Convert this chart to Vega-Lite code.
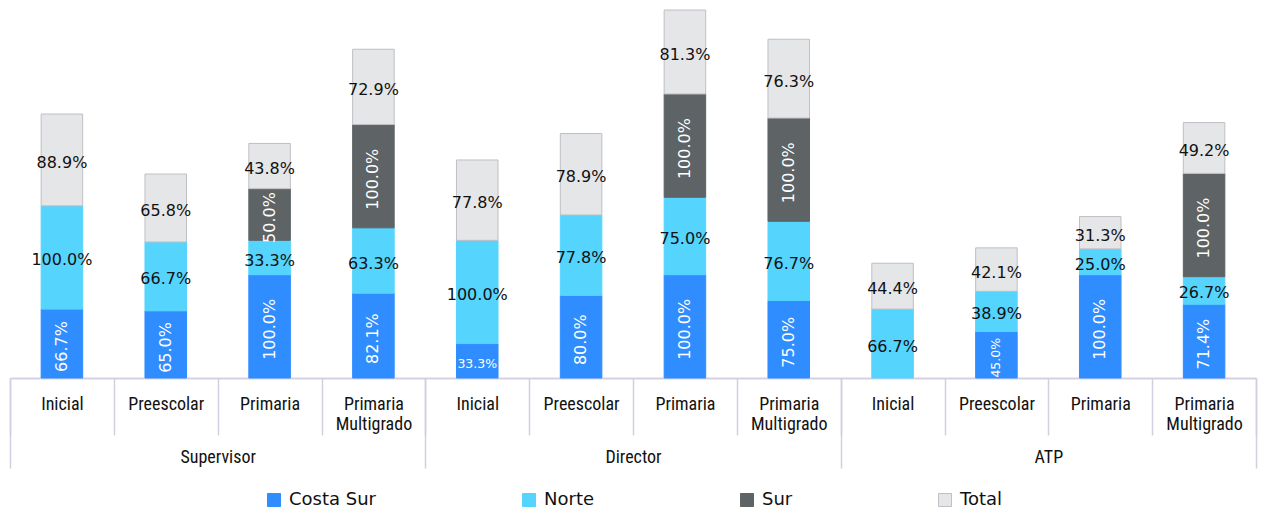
{
  "$schema": "https://vega.github.io/schema/vega-lite/v6.json",
  "width": 1246,
  "height": 378,
  "autosize": {"type": "none"},
  "padding": {"left": 10, "top": 0, "right": 7, "bottom": 131},
  "background": "white",
  "config": {
    "view": {"stroke": null},
    "legend": {
      "orient": "none",
      "legendX": 255,
      "legendY": 491,
      "direction": "horizontal",
      "symbolType": "square",
      "symbolSize": 169,
      "labelFont": "DejaVu Sans",
      "labelFontSize": 18,
      "labelColor": "#111111",
      "labelOffset": 6,
      "columnPadding": 143,
      "symbolStrokeWidth": 1
    }
  },
  "data": {
    "values": [
      {"role": "Supervisor", "level": "Inicial", "k": "Supervisor|Inicial", "series": "Costa Sur", "value": 0.667},
      {"role": "Supervisor", "level": "Inicial", "k": "Supervisor|Inicial", "series": "Norte", "value": 1.0},
      {"role": "Supervisor", "level": "Inicial", "k": "Supervisor|Inicial", "series": "Total", "value": 0.889},
      {"role": "Supervisor", "level": "Preescolar", "k": "Supervisor|Preescolar", "series": "Costa Sur", "value": 0.65},
      {"role": "Supervisor", "level": "Preescolar", "k": "Supervisor|Preescolar", "series": "Norte", "value": 0.667},
      {"role": "Supervisor", "level": "Preescolar", "k": "Supervisor|Preescolar", "series": "Total", "value": 0.658},
      {"role": "Supervisor", "level": "Primaria", "k": "Supervisor|Primaria", "series": "Costa Sur", "value": 1.0},
      {"role": "Supervisor", "level": "Primaria", "k": "Supervisor|Primaria", "series": "Norte", "value": 0.333},
      {"role": "Supervisor", "level": "Primaria", "k": "Supervisor|Primaria", "series": "Sur", "value": 0.5},
      {"role": "Supervisor", "level": "Primaria", "k": "Supervisor|Primaria", "series": "Total", "value": 0.438},
      {"role": "Supervisor", "level": "Primaria Multigrado", "k": "Supervisor|Primaria Multigrado", "series": "Costa Sur", "value": 0.821},
      {"role": "Supervisor", "level": "Primaria Multigrado", "k": "Supervisor|Primaria Multigrado", "series": "Norte", "value": 0.633},
      {"role": "Supervisor", "level": "Primaria Multigrado", "k": "Supervisor|Primaria Multigrado", "series": "Sur", "value": 1.0},
      {"role": "Supervisor", "level": "Primaria Multigrado", "k": "Supervisor|Primaria Multigrado", "series": "Total", "value": 0.729},
      {"role": "Director", "level": "Inicial", "k": "Director|Inicial", "series": "Costa Sur", "value": 0.333},
      {"role": "Director", "level": "Inicial", "k": "Director|Inicial", "series": "Norte", "value": 1.0},
      {"role": "Director", "level": "Inicial", "k": "Director|Inicial", "series": "Total", "value": 0.778},
      {"role": "Director", "level": "Preescolar", "k": "Director|Preescolar", "series": "Costa Sur", "value": 0.8},
      {"role": "Director", "level": "Preescolar", "k": "Director|Preescolar", "series": "Norte", "value": 0.778},
      {"role": "Director", "level": "Preescolar", "k": "Director|Preescolar", "series": "Total", "value": 0.789},
      {"role": "Director", "level": "Primaria", "k": "Director|Primaria", "series": "Costa Sur", "value": 1.0},
      {"role": "Director", "level": "Primaria", "k": "Director|Primaria", "series": "Norte", "value": 0.75},
      {"role": "Director", "level": "Primaria", "k": "Director|Primaria", "series": "Sur", "value": 1.0},
      {"role": "Director", "level": "Primaria", "k": "Director|Primaria", "series": "Total", "value": 0.813},
      {"role": "Director", "level": "Primaria Multigrado", "k": "Director|Primaria Multigrado", "series": "Costa Sur", "value": 0.75},
      {"role": "Director", "level": "Primaria Multigrado", "k": "Director|Primaria Multigrado", "series": "Norte", "value": 0.767},
      {"role": "Director", "level": "Primaria Multigrado", "k": "Director|Primaria Multigrado", "series": "Sur", "value": 1.0},
      {"role": "Director", "level": "Primaria Multigrado", "k": "Director|Primaria Multigrado", "series": "Total", "value": 0.763},
      {"role": "ATP", "level": "Inicial", "k": "ATP|Inicial", "series": "Norte", "value": 0.667},
      {"role": "ATP", "level": "Inicial", "k": "ATP|Inicial", "series": "Total", "value": 0.444},
      {"role": "ATP", "level": "Preescolar", "k": "ATP|Preescolar", "series": "Costa Sur", "value": 0.45},
      {"role": "ATP", "level": "Preescolar", "k": "ATP|Preescolar", "series": "Norte", "value": 0.389},
      {"role": "ATP", "level": "Preescolar", "k": "ATP|Preescolar", "series": "Total", "value": 0.421},
      {"role": "ATP", "level": "Primaria", "k": "ATP|Primaria", "series": "Costa Sur", "value": 1.0},
      {"role": "ATP", "level": "Primaria", "k": "ATP|Primaria", "series": "Norte", "value": 0.25},
      {"role": "ATP", "level": "Primaria", "k": "ATP|Primaria", "series": "Total", "value": 0.313},
      {"role": "ATP", "level": "Primaria Multigrado", "k": "ATP|Primaria Multigrado", "series": "Costa Sur", "value": 0.714},
      {"role": "ATP", "level": "Primaria Multigrado", "k": "ATP|Primaria Multigrado", "series": "Norte", "value": 0.267},
      {"role": "ATP", "level": "Primaria Multigrado", "k": "ATP|Primaria Multigrado", "series": "Sur", "value": 1.0},
      {"role": "ATP", "level": "Primaria Multigrado", "k": "ATP|Primaria Multigrado", "series": "Total", "value": 0.492}
    ]
  },
  "transform": [
    {"stack": "value", "groupby": ["k"], "sort": [{"field": "series", "order": "ascending"}], "as": ["v0", "v1"]}
  ],
  "layer": [
    {
      "layer": [
        {
          "mark": {"type": "bar", "width": {"band": 0.4}, "strokeWidth": 1},
          "encoding": {
            "x": {
              "field": "k", "type": "nominal",
              "sort": ["Supervisor|Inicial", "Supervisor|Preescolar", "Supervisor|Primaria", "Supervisor|Primaria Multigrado", "Director|Inicial", "Director|Preescolar", "Director|Primaria", "Director|Primaria Multigrado", "ATP|Inicial", "ATP|Preescolar", "ATP|Primaria", "ATP|Primaria Multigrado"],
              "scale": {"paddingInner": 0, "paddingOuter": 0},
              "axis": {
                "title": null,
                "orient": "bottom",
                "labelExpr": "indexof(datum.label, '|') >= 0 ? split(split(datum.label, '|')[1], ' ') : ''",
                "tickBand": "extent",
                "tickSize": 57,
                "tickColor": "#d3cfe0",
                "tickWidth": 1.5,
                "domainColor": "#d3cfe0",
                "domainWidth": 1.5,
                "labelPadding": -40,
                "labelFont": "Liberation Sans Narrow, Roboto Condensed, DejaVu Sans Condensed, sans-serif",
                "labelFontSize": 18,
                "labelColor": "#111111",
                "labelLineHeight": 20,
                "labelAngle": 0,
                "labelBaseline": "top",
                "labelOverlap": false,
                "labelBound": false
              }
            },
            "y": {"field": "v0", "type": "quantitative", "scale": {"domain": [0, 3.66], "nice": false}, "axis": null},
            "y2": {"field": "v1"},
            "fill": {
              "field": "series", "type": "nominal",
              "scale": {"domain": ["Costa Sur", "Norte", "Sur", "Total"], "range": ["#2f8dff", "#55d4fe", "#5e6366", "#e5e6e8"]},
              "legend": {"title": null}
            },
            "stroke": {
              "field": "series", "type": "nominal",
              "scale": {"domain": ["Costa Sur", "Norte", "Sur", "Total"], "range": ["#2f8dff", "#55d4fe", "#5e6366", "#bfbfc4"]},
              "legend": {"title": null}
            }
          }
        },
        {
          "transform": [
            {"fold": ["v0", "v1"], "as": ["edge", "pos"]}
          ],
          "mark": {"type": "text", "font": "DejaVu Sans", "baseline": "middle", "align": "center"},
          "encoding": {
            "x": {
              "field": "k", "type": "nominal",
              "sort": ["Supervisor|Inicial", "Supervisor|Preescolar", "Supervisor|Primaria", "Supervisor|Primaria Multigrado", "Director|Inicial", "Director|Preescolar", "Director|Primaria", "Director|Primaria Multigrado", "ATP|Inicial", "ATP|Preescolar", "ATP|Primaria", "ATP|Primaria Multigrado"]
            },
            "y": {"aggregate": "mean", "field": "pos", "type": "quantitative", "scale": {"domain": [0, 3.66], "nice": false}},
            "yOffset": {"condition": {"test": "(datum.series == 'Costa Sur' && datum.value >= 0.4) || datum.series == 'Sur'", "value": 0}, "value": 3},
            "detail": {"field": "series", "type": "nominal"},
            "text": {"field": "value", "type": "quantitative", "format": ".1%"},
            "angle": {"condition": {"test": "(datum.series == 'Costa Sur' && datum.value >= 0.4) || datum.series == 'Sur'", "value": 270}, "value": 0},
            "size": {"condition": {"test": "datum.series == 'Costa Sur' && datum.value < 0.5", "value": 12.5}, "value": 16},
            "color": {"condition": {"test": "datum.series == 'Costa Sur' || datum.series == 'Sur'", "value": "#ffffff"}, "value": "#111111"}
          }
        }
      ]
    },
    {
      "mark": {"type": "rule", "opacity": 0},
      "encoding": {
        "x": {
          "field": "role", "type": "nominal",
          "sort": ["Supervisor", "Director", "ATP"],
          "scale": {"paddingInner": 0, "paddingOuter": 0},
          "axis": {
            "title": null,
            "orient": "bottom",
            "tickBand": "extent",
            "tickSize": 90,
            "tickColor": "#d3cfe0",
            "tickWidth": 1.5,
            "domainColor": "#d3cfe0",
            "domainWidth": 1.5,
            "labelPadding": -20,
            "labelFont": "Liberation Sans Narrow, Roboto Condensed, DejaVu Sans Condensed, sans-serif",
            "labelFontSize": 18,
            "labelColor": "#111111",
            "labelAngle": 0,
            "labelBaseline": "top",
            "labelOverlap": false,
            "labelBound": false
          }
        }
      }
    }
  ],
  "resolve": {"scale": {"x": "independent"}}
}
